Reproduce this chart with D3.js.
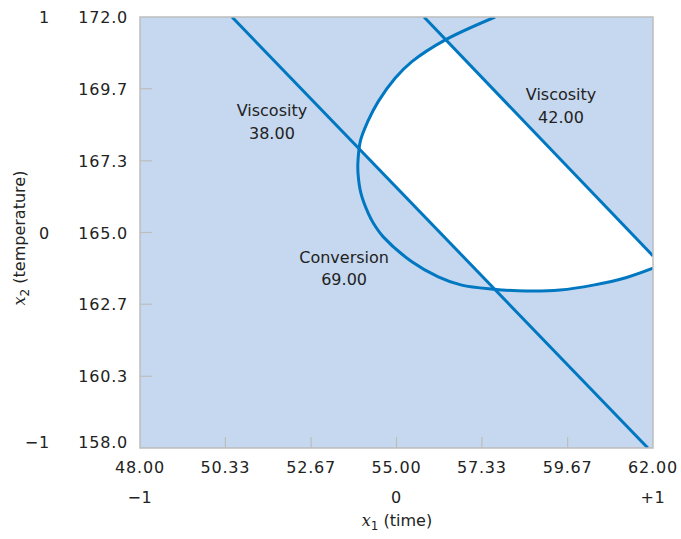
<!DOCTYPE html>
<html><head><meta charset="utf-8">
<script src="https://cdn.jsdelivr.net/npm/d3@7"></script>
<style>
body{margin:0;background:#fff;}
svg text{font-family:"DejaVu Sans",sans-serif;fill:#222;}
</style></head>
<body>
<svg id="chart" width="681" height="539"></svg>
<script>
// ---- data ----
const xTicks = [48.00, 50.33, 52.67, 55.00, 57.33, 59.67, 62.00];
const xTickLabels = ["48.00","50.33","52.67","55.00","57.33","59.67","62.00"];
const yTicks = [158.0, 160.33, 162.67, 165.0, 167.33, 169.67, 172.0];
const yTickLabels = ["158.0","160.3","162.7","165.0","167.3","169.7","172.0"];
const xCoded = [{v:48,t:"\u22121"},{v:55,t:"0"},{v:62,t:"+1"}];
const yCoded = [{v:158,t:"\u22121"},{v:165,t:"0"},{v:172,t:"1"}];
// contour lines (time, temperature)
const viscosity38 = [[50.51,172.0],[61.86,158.0]];
const viscosity42 = [[55.75,172.0],[62.0,164.24]];
const conversion69 = [
  [57.69,172.00],[56.32,171.25],[55.42,170.55],[54.96,170.01],[54.50,169.25],
  [54.21,168.59],[54.02,168.00],[53.95,167.35],[53.95,166.92],[54.03,166.27],
  [54.23,165.62],[54.37,165.30],[54.645,164.85],[55.42,164.05],[56.14,163.56],
  [56.78,163.29],[57.64,163.16],[58.55,163.10],[59.46,163.13],[60.37,163.29],
  [61.28,163.54],[62.00,163.84]
];
const labels = [
  {x:51.60, y:168.78, l1:"Viscosity", l2:"38.00"},
  {x:59.49, y:169.30, l1:"Viscosity", l2:"42.00"},
  {x:53.57, y:164.01, l1:"Conversion", l2:"69.00"}
];

// ---- layout ----
const svg = d3.select("#chart");
const L=140, R=653, T=17, B=448;
const x = d3.scaleLinear().domain([48,62]).range([L,R]);
const y = d3.scaleLinear().domain([158,172]).range([B,T]);
const blue="#0077c1", fill="#c6d8ef";

const defs = svg.append("defs");
defs.append("clipPath").attr("id","plotclip").append("rect")
  .attr("x",L).attr("y",T).attr("width",R-L).attr("height",B-T);
// band between the two viscosity lines
const band = [viscosity38[0], viscosity42[0], viscosity42[1], [62,158], viscosity38[1]];
defs.append("clipPath").attr("id","bandclip").append("path")
  .attr("d", d3.line().x(d=>x(d[0])).y(d=>y(d[1]))(band)+"Z");

svg.append("rect").attr("x",L).attr("y",T).attr("width",R-L).attr("height",B-T).attr("fill",fill);

const curveLine = d3.line().x(d=>x(d[0])).y(d=>y(d[1])).curve(d3.curveCatmullRom.alpha(0.5));
const convPath = curveLine(conversion69);
// feasible (white) region
svg.append("g").attr("clip-path","url(#plotclip)")
  .append("path")
  .attr("d", convPath + "L" + x(62) + "," + y(172) + "Z")
  .attr("fill","#fff").attr("clip-path","url(#bandclip)");

// ticks (inside)
const tg = svg.append("g").attr("stroke","#bdbdbd").attr("stroke-width",1.2);
xTicks.slice(1,-1).forEach(v=>tg.append("line").attr("x1",x(v)).attr("x2",x(v)).attr("y1",B).attr("y2",B-11));
yTicks.slice(1,-1).forEach(v=>tg.append("line").attr("x1",L).attr("x2",L+12).attr("y1",y(v)).attr("y2",y(v)));

// contour lines
const g = svg.append("g").attr("clip-path","url(#plotclip)").attr("fill","none").attr("stroke",blue).attr("stroke-width",3);
const straight = d3.line().x(d=>x(d[0])).y(d=>y(d[1]));
g.append("path").attr("d",straight(viscosity38));
g.append("path").attr("d",straight(viscosity42));
g.append("path").attr("d",convPath);

// frame
svg.append("rect").attr("x",L).attr("y",T).attr("width",R-L).attr("height",B-T)
  .attr("fill","none").attr("stroke","#bdbdbd").attr("stroke-width",1.5);

// labels
labels.forEach(d=>{
  const t = svg.append("text").attr("text-anchor","middle").attr("font-size",16);
  t.append("tspan").attr("x",x(d.x)).attr("y",y(d.y)).text(d.l1);
  t.append("tspan").attr("x",x(d.x)).attr("dy",22.5).text(d.l2);
});

// axis tick labels
const tickStyle = s=>s.attr("font-size",16).attr("letter-spacing","0.8px");
const yLab = v => (v===158 ? y(v)-6 : y(v)) + 6;
xTicks.forEach((v,i)=>svg.append("text").call(tickStyle).attr("x",x(v)).attr("y",473).attr("text-anchor","middle").text(xTickLabels[i]));
yTicks.forEach((v,i)=>svg.append("text").call(tickStyle).attr("x",128).attr("y",yLab(v)).attr("text-anchor","end").text(yTickLabels[i]));
xCoded.forEach(d=>svg.append("text").call(tickStyle).attr("x",x(d.v)).attr("y",503).attr("text-anchor","middle").text(d.t));
yCoded.forEach(d=>svg.append("text").call(tickStyle).attr("x",50).attr("y",yLab(d.v)).attr("text-anchor","end").text(d.t));

// axis titles
const xt = svg.append("text").attr("x",397).attr("y",526).attr("text-anchor","middle").attr("font-size",16);
xt.append("tspan").attr("font-family","DejaVu Serif").attr("font-style","italic").text("x");
xt.append("tspan").attr("font-size",12).attr("dy",4).text("1");
xt.append("tspan").attr("dy",-4).text(" (time)");

const yt = svg.append("text").attr("transform","translate(25,238) rotate(-90)").attr("text-anchor","middle").attr("font-size",16);
yt.append("tspan").attr("font-family","DejaVu Serif").attr("font-style","italic").text("x");
yt.append("tspan").attr("font-size",12).attr("dy",4).text("2");
yt.append("tspan").attr("dy",-4).text(" (temperature)");
</script>
</body></html>
